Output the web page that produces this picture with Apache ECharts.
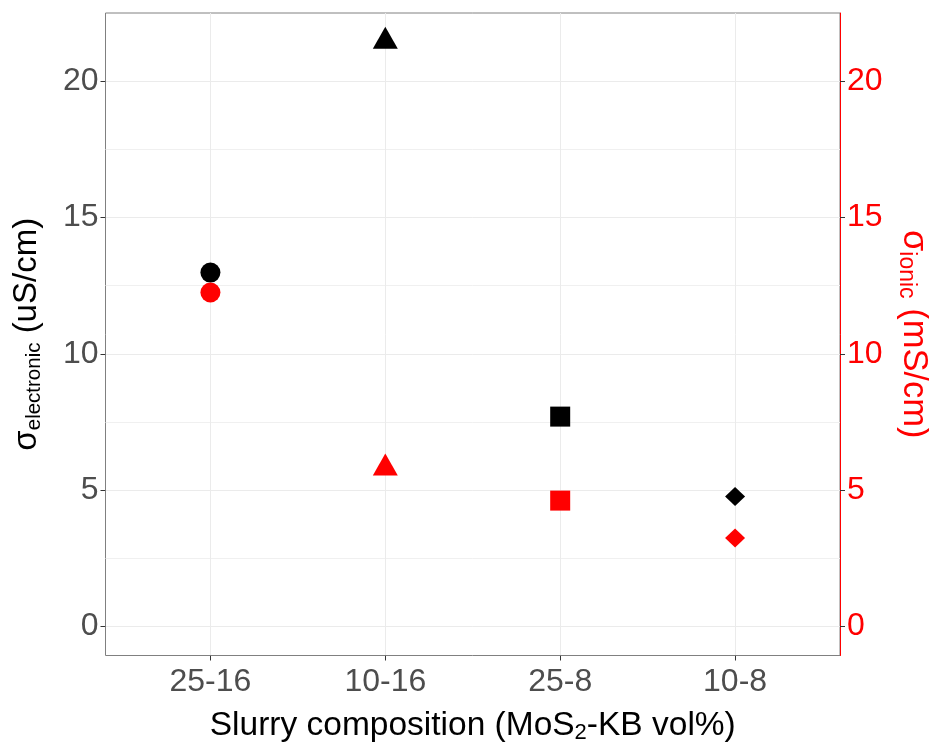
<!DOCTYPE html>
<html>
<head>
<meta charset="utf-8">
<script src="https://cdn.jsdelivr.net/npm/echarts@6/dist/echarts.min.js"></script>
<style>
  html, body { margin: 0; padding: 0; background: #fff; }
  #chart { width: 929px; height: 742px; }
</style>
</head>
<body>
<div id="chart"></div>
<script>
// Slurry compositions (MoS2-KB vol%) along the x axis
const categories = ['25-16', '10-16', '25-8', '10-8'];
// Electronic conductivity, uS/cm (left axis, black)
const electronic = [12.98, 21.46, 7.70, 4.77];
// Ionic conductivity, mS/cm (right axis, red)
const ionic = [12.25, 5.82, 4.62, 3.25];
// Tick labels shared by both y axes
const yTicks = [0, 5, 10, 15, 20];
const yMinorTicks = [2.5, 7.5, 12.5, 17.5];
// Marker shape per composition
const shapes = ['circle', 'triangle', 'rect', 'diamond'];

const FONT = '"Liberation Sans", Arial, sans-serif';
const xPositions = categories.map((c, i) => i + 1);

function symbolStyle(shape) {
  switch (shape) {
    case 'circle': return { symbolSize: 20 };
    case 'triangle': return { symbolSize: [25, 22], symbolOffset: [0, -3.5] };
    case 'rect': return { symbolSize: 20 };
    default: return { symbolSize: [20, 19] };
  }
}

function buildPoints(values) {
  return values.map((v, i) => Object.assign({
    value: [xPositions[i], v],
    symbol: shapes[i]
  }, symbolStyle(shapes[i])));
}

const yRange = { min: -1.06, max: 22.5 };

const chart = echarts.init(document.getElementById('chart'), null, { renderer: 'canvas' });
chart.setOption({
  animation: false,
  backgroundColor: '#ffffff',
  grid: {
    left: 105.5, top: 13, right: 89, bottom: 86.5,
    outerBoundsMode: 'none', containLabel: false,
    show: true, borderColor: '#808080', borderWidth: 1, backgroundColor: '#ffffff'
  },
  xAxis: {
    type: 'value',
    min: 0.4, max: 4.6,
    name: '{t|Slurry composition (MoS}{s|2}{t|-KB vol%)}',
    nameLocation: 'middle',
    nameGap: 52,
    nameTextStyle: {
      rich: {
        t: { fontFamily: FONT, fontSize: 33.5, color: '#000' },
        s: { fontFamily: FONT, fontSize: 22, color: '#000', padding: [14, 0, 0, 0] }
      }
    },
    axisLine: { show: false, onZero: false },
    axisTick: { show: true, length: 5, customValues: xPositions, lineStyle: { color: '#333', width: 1 } },
    axisLabel: {
      customValues: xPositions,
      formatter: v => categories[Math.round(v) - 1] || '',
      fontFamily: FONT, fontSize: 32, color: '#4D4D4D', margin: 11
    },
    splitLine: { show: true, customValues: xPositions, lineStyle: { color: '#EBEBEB', width: 1 } }
  },
  yAxis: [
    {
      type: 'value', position: 'left',
      min: yRange.min, max: yRange.max,
      name: '{g|σ}{s|electronic}{g| (uS/cm)}',
      nameLocation: 'middle', nameRotate: 90, nameGap: 61,
      nameTextStyle: {
        rich: {
          g: { fontFamily: FONT, fontSize: 33, color: '#000' },
          s: { fontFamily: FONT, fontSize: 20.5, color: '#000', padding: [14, 0, 0, 0] }
        }
      },
      axisLine: { show: false, onZero: false },
      axisTick: { show: true, length: 5, customValues: yTicks, lineStyle: { color: '#333', width: 1 } },
      axisLabel: { customValues: yTicks, fontFamily: FONT, fontSize: 32, color: '#4D4D4D', margin: 7 },
      splitLine: { show: true, lineStyle: { color: '#EBEBEB', width: 1 } }
    },
    {
      type: 'value', position: 'right',
      min: yRange.min, max: yRange.max,
      name: '{g|σ}{s|ionic}{g| (mS/cm)}',
      nameLocation: 'middle', nameRotate: -90, nameGap: 55,
      nameTextStyle: {
        rich: {
          g: { fontFamily: FONT, fontSize: 34.5, color: '#FF0000' },
          s: { fontFamily: FONT, fontSize: 23, color: '#FF0000', padding: [15, 0, 0, 0] }
        }
      },
      axisLine: { show: true, onZero: false, lineStyle: { color: '#FF0000', width: 1 } },
      axisTick: { show: true, length: 5, customValues: yTicks, lineStyle: { color: '#333', width: 1 } },
      axisLabel: { customValues: yTicks, fontFamily: FONT, fontSize: 32, color: '#FF0000', margin: 7 },
      splitLine: { show: false }
    },
    {
      // minor grid lines between the labelled ticks
      type: 'value', position: 'left',
      min: yRange.min, max: yRange.max,
      axisLine: { show: false, onZero: false },
      axisTick: { show: false, customValues: yMinorTicks },
      axisLabel: { show: false, customValues: yMinorTicks },
      splitLine: { show: true, lineStyle: { color: '#F0F0F0', width: 1 } }
    }
  ],
  series: [
    {
      name: 'electronic', type: 'scatter', yAxisIndex: 0,
      itemStyle: { color: '#000000', opacity: 1 },
      data: buildPoints(electronic), z: 3
    },
    {
      name: 'ionic', type: 'scatter', yAxisIndex: 1,
      itemStyle: { color: '#FF0000', opacity: 1 },
      data: buildPoints(ionic), z: 3
    }
  ]
});
</script>
</body>
</html>
